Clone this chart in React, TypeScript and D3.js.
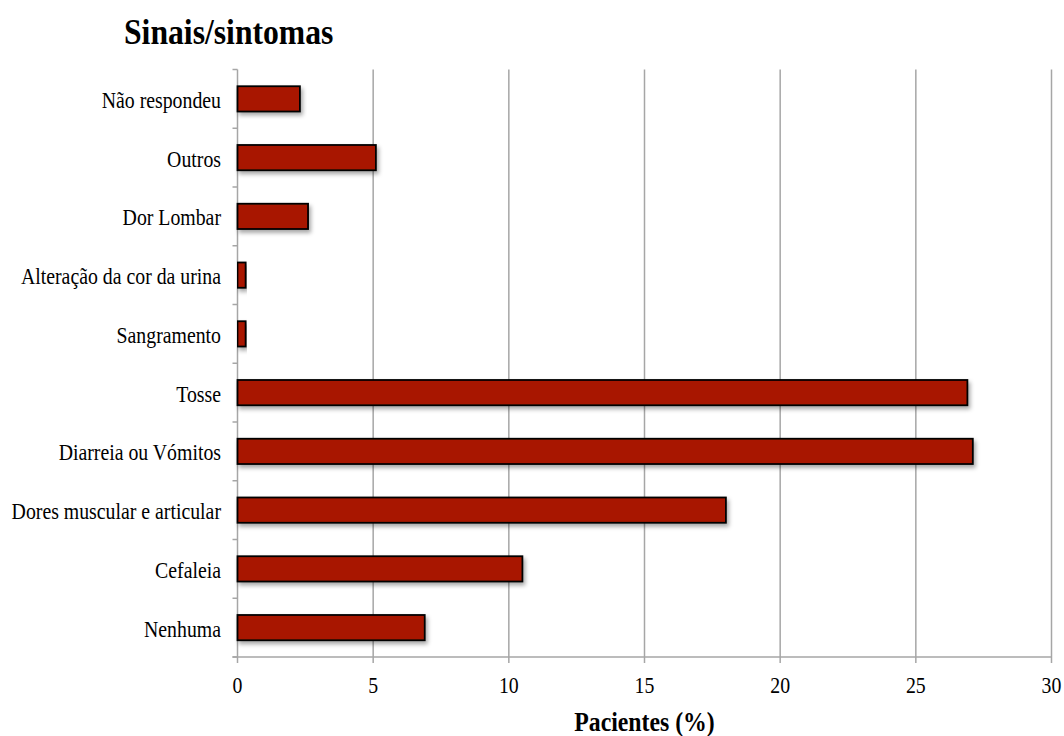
import React from "react";
import * as d3 from "d3";

const categories = [
  "Não respondeu",
  "Outros",
  "Dor Lombar",
  "Alteração da cor da urina",
  "Sangramento",
  "Tosse",
  "Diarreia ou Vómitos",
  "Dores muscular e articular",
  "Cefaleia",
  "Nenhuma",
];
const values = [2.3, 5.1, 2.6, 0.3, 0.3, 26.9, 27.1, 18.0, 10.5, 6.9];
const xTicks = [0, 5, 10, 15, 20, 25, 30];

const W = 1064;
const H = 736;
const margin = { left: 237.5, right: 12.5, top: 69.5, bottom: 79 };
const FONT = "Liberation Serif";
const SQUEEZE = 0.88;

function Label(props: {
  x: number;
  y: number;
  size: number;
  anchor?: "start" | "middle" | "end";
  bold?: boolean;
  children: React.ReactNode;
}) {
  const { x, y, size, anchor = "start", bold = false, children } = props;
  return (
    <text
      transform={`translate(${x},${y}) scale(${SQUEEZE},1)`}
      textAnchor={anchor}
      fontFamily={FONT}
      fontSize={size}
      fontWeight={bold ? "bold" : "normal"}
      fill="#000"
    >
      {children}
    </text>
  );
}

export default function App() {
  const x = d3.scaleLinear().domain([0, 30]).range([margin.left, W - margin.right]);
  const y = d3
    .scaleBand<string>()
    .domain(categories)
    .range([margin.top, H - margin.bottom])
    .paddingInner(0.57)
    .paddingOuter(0.285);
  const step = y.step();
  const y0 = margin.top;
  const y1 = H - margin.bottom;
  const bandEdges = d3.range(categories.length + 1).map((i) => y0 + i * step);
  const grey = "#a6a6a6";

  return (
    <svg width={W} height={H} style={{ position: "absolute", left: 0, top: 0 }}>
      <defs>
        <filter id="barShadow" x="-5%" y="-30%" width="115%" height="190%">
          <feDropShadow dx="2" dy="3" stdDeviation="2" floodColor="#000" floodOpacity="0.35" />
        </filter>
      </defs>
      <rect width={W} height={H} fill="#fff" />
      <Label x={124} y={44} size={36} bold>
        Sinais/sintomas
      </Label>

      {/* vertical gridlines */}
      {xTicks.slice(1).map((t) => (
        <line key={t} x1={x(t)} x2={x(t)} y1={y0} y2={y1 + 6} stroke={grey} strokeWidth={1.5} />
      ))}
      {/* axes */}
      <line x1={x(0)} x2={x(0)} y1={y0} y2={y1 + 6} stroke={grey} strokeWidth={1.5} />
      <line x1={x(0) - 5} x2={x(30)} y1={y1} y2={y1} stroke={grey} strokeWidth={1.5} />
      {bandEdges.map((e, i) => (
        <line key={i} x1={x(0) - 5} x2={x(0)} y1={e} y2={e} stroke={grey} strokeWidth={1.5} />
      ))}

      {/* bars */}
      {categories.map((c, i) => (
        <rect
          key={c}
          x={x(0)}
          y={y(c)!}
          width={x(values[i]) - x(0)}
          height={y.bandwidth()}
          fill="#a81800"
          stroke="#000"
          strokeWidth={1.8}
          filter="url(#barShadow)"
        />
      ))}

      {/* category labels */}
      {categories.map((c) => (
        <Label key={c} x={221} y={y(c)! + y.bandwidth() / 2 + 9} size={22.5} anchor="end">
          {c}
        </Label>
      ))}

      {/* x tick labels */}
      {xTicks.map((t) => (
        <Label key={t} x={x(t)} y={693} size={22.5} anchor="middle">
          {t}
        </Label>
      ))}
      <Label x={(x(0) + x(30)) / 2} y={731} size={27} anchor="middle" bold>
        Pacientes (%)
      </Label>
    </svg>
  );
}
